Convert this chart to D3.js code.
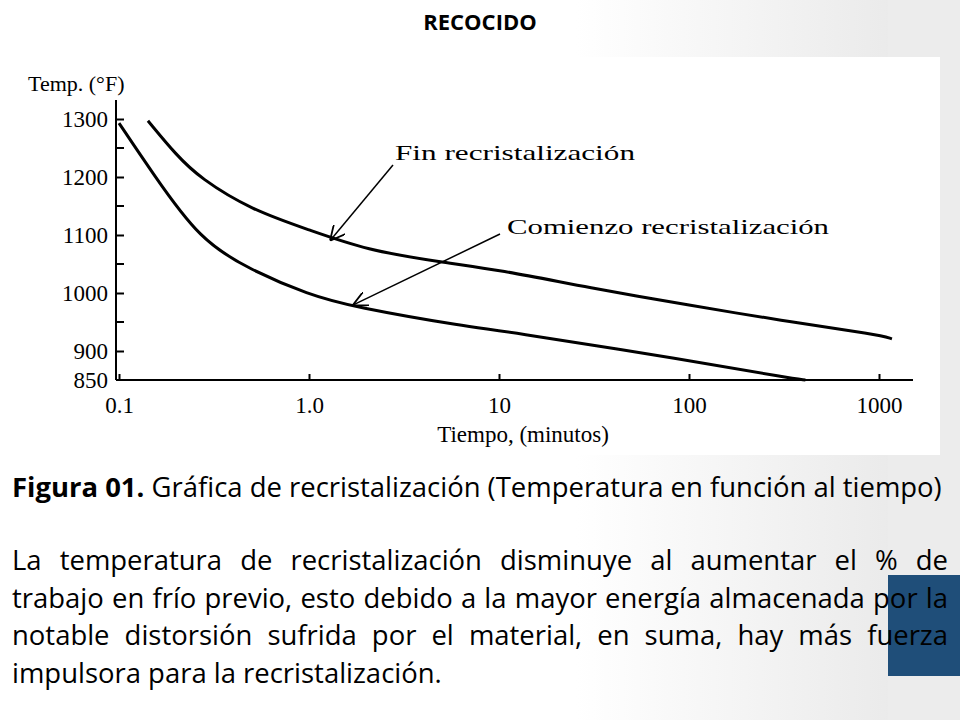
<!DOCTYPE html>
<html><head><meta charset="utf-8">
<script src="https://cdn.jsdelivr.net/npm/d3@7"></script>
<style>body{margin:0}svg{display:block}</style></head>
<body><svg id="c" width="960" height="720"></svg>
<script>
const xTicks=[0.1,1,10,100,1000];
const xTickLabels=["0.1","1.0","10","100","1000"];
const yTicks=[850,900,1000,1100,1200,1300];
const yMinor=[950,1050,1150,1250];
const finT=[0.142,0.2,0.267,0.5,1,2,5,10,30,100,300,1000,1170];
const finTemp=[1297,1238,1198,1143,1109,1074,1053,1040,1009,979,953,928,921];
const comT=[0.1,0.15,0.267,0.49,1,1.7,7,10,100,340,410];
const comTemp=[1293,1207,1091,1040,997,976,941,936,884,853,850];
const bodyLines=["La temperatura de recristalización disminuye al aumentar el % de","trabajo en frío previo, esto debido a la mayor energía almacenada por la","notable distorsión sufrida por el material, en suma, hay más fuerza","impulsora para la recristalización."];

const svg=d3.select("#c");
const defs=svg.append("defs");
const g=defs.append("linearGradient").attr("id","bg").attr("x1",0).attr("x2",1).attr("y1",0).attr("y2",0);
g.append("stop").attr("offset","0").attr("stop-color","#ffffff");
g.append("stop").attr("offset","0.6").attr("stop-color","#ffffff");
g.append("stop").attr("offset","1").attr("stop-color","#e6e6e6");
svg.append("rect").attr("width",960).attr("height",720).attr("fill","url(#bg)");
svg.append("rect").attr("x",888).attr("y",0).attr("width",72).attr("height",720).attr("fill","#ececec");
svg.append("rect").attr("x",888).attr("y",575).attr("width",72).attr("height",101).attr("fill","#1f4e79");
svg.append("rect").attr("x",10).attr("y",57).attr("width",930).attr("height",398).attr("fill","#fff");
svg.append("text").attr("x",480).attr("y",30).attr("text-anchor","middle").attr("font-family","Open Sans").attr("font-weight","bold").attr("font-size",22).text("RECOCIDO");

const x=d3.scaleLog().domain([0.1,1000]).range([119,879]);
const y=d3.scaleLinear().domain([850,1300]).range([380,119]);
const serif="Liberation Serif";
const ax=svg.append("g").attr("transform","translate(0,380)")
 .call(d3.axisBottom(x).tickValues(xTicks).tickSize(-6).tickFormat((d,i)=>xTickLabels[i]));
ax.select(".domain").attr("d","M116,0H913").attr("stroke-width",2);
ax.selectAll("text").attr("font-family",serif).attr("font-size",23).attr("dy","1.3em");
ax.selectAll("line").attr("stroke-width",2);
const ay=svg.append("g").attr("transform","translate(116,0)")
 .call(d3.axisLeft(y).tickValues(yTicks).tickSize(-8).tickFormat(d3.format("d")));
ay.select(".domain").attr("d","M0,380V100").attr("stroke-width",2);
ay.selectAll("text").attr("font-family",serif).attr("font-size",23).attr("x",-8);
ay.selectAll("line").attr("stroke-width",2);
ay.selectAll(".tick").filter(d=>d===850).select("line").remove();
svg.append("g").selectAll("line").data(yMinor).join("line").attr("x1",116).attr("x2",124)
 .attr("y1",d=>y(d)).attr("y2",d=>y(d)).attr("stroke","#000").attr("stroke-width",2);
svg.append("text").attr("x",28).attr("y",91).attr("font-family",serif).attr("font-size",22).text("Temp. (°F)");
svg.append("text").attr("x",523).attr("y",442).attr("text-anchor","middle").attr("font-family",serif).attr("font-size",23).text("Tiempo, (minutos)");

const line=d3.line().x(d=>x(d[0])).y(d=>y(d[1])).curve(d3.curveBasis);
svg.append("path").attr("d",line(d3.zip(finT,finTemp))).attr("fill","none").attr("stroke","#000").attr("stroke-width",3);
svg.append("path").attr("d",line(d3.zip(comT,comTemp))).attr("fill","none").attr("stroke","#000").attr("stroke-width",3);

defs.append("marker").attr("id","ar").attr("viewBox","0 0 10 10").attr("refX",10).attr("refY",5)
 .attr("markerWidth",10).attr("markerHeight",10).attr("orient","auto")
 .append("path").attr("d","M0,0L10,5L0,10").attr("fill","none").attr("stroke","#000").attr("stroke-width",1.2);
function ann(tx,ty,t,p,label,lx,ly){
 svg.append("line").attr("x1",tx).attr("y1",ty).attr("x2",x(t)).attr("y2",y(p)).attr("stroke","#000").attr("stroke-width",1.5).attr("marker-end","url(#ar)");
 svg.append("text").attr("x",lx).attr("y",ly).attr("font-family",serif).attr("font-size",22).attr("textLength",lx===395?240:322).attr("lengthAdjust","spacingAndGlyphs").text(label);
}
ann(393,165,1.29,1090,"Fin recristalización",395,160);
ann(500,234,1.7,979,"Comienzo recristalización",507,234);

// captions
const sans="Open Sans";
const cap=svg.append("text").attr("x",12).attr("y",497).attr("font-family",sans).attr("font-size",22);
cap.append("tspan").attr("font-weight","bold").text("Figura 01.");
cap.append("tspan").text(" Gráfica de recristalización (Temperatura en función al tiempo)");
const cw=cap.node().getComputedTextLength();
cap.attr("font-size",22*930/cw);
const fs=22*930/cw;
svg.append("g").selectAll("text").data(bodyLines).join("text")
 .attr("x",12).attr("y",(d,i)=>570+i*37.5).attr("font-family",sans).attr("font-size",fs)
 .text(d=>d)
 .each(function(d,i){
   if(i===bodyLines.length-1) return;
   const w=this.getComputedTextLength();
   const n=(d.match(/ /g)||[]).length;
   d3.select(this).attr("word-spacing",(936-w)/n);
 });
</script></body></html>
